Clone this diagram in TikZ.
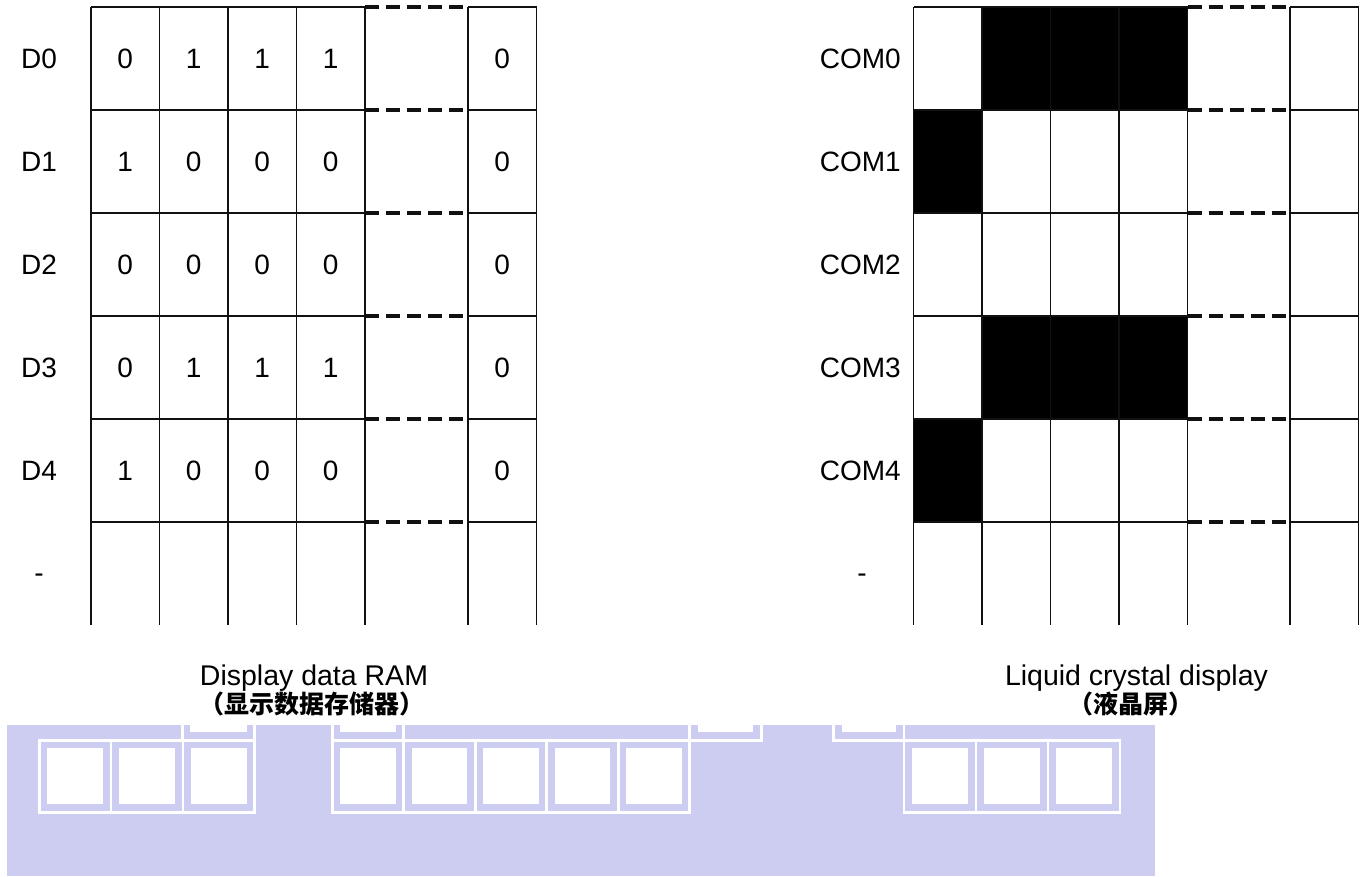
\documentclass[tikz,border=0pt]{standalone}
\usepackage{fontspec}
\setmainfont{Liberation Sans}
\newfontfamily\cjk{Noto Sans CJK SC}
\usetikzlibrary{positioning}
\definecolor{Grid}{HTML}{111111}
\definecolor{Lilac}{RGB}{205,205,241}

\tikzset{
  gridline/.style={Grid,line width=1.5pt},
  gapline/.style={Grid,line width=3.3pt,dash pattern=on 14pt off 7pt},
  celltext/.style={font=\fontsize{28}{30}\selectfont,inner sep=0pt},
  caption/.style={font=\fontsize{28.5}{30}\selectfont,anchor=base,inner sep=0pt},
  captioncn/.style={font=\cjk\bfseries\fontsize{25}{27}\selectfont,anchor=base,inner sep=0pt},
  tofuline/.style={white,line width=2.7pt}
}

% x0, x1, top edge of one empty glyph box
\newcommand{\tofubox}[3]{%
  \draw[tofuline] ({#1},{#3}) rectangle ({#2},{#3+72});
  \fill[white] ({#1+8},{#3+8}) rectangle ({#2-8},{#3+64});
}

\begin{document}
\begin{tikzpicture}[x=1pt,y=-1pt]
  \useasboundingbox (0,0) rectangle (1364,876);

  % display data RAM
  \foreach \x in {91,159.5,228,296.5,365,468,536.5}
    \draw[gridline] (\x,7) -- (\x,625);
  \foreach \y in {7,110,213,316,419,522} {
    \draw[gridline] (91,\y) -- (365,\y);
    \draw[gapline] (365,\y) -- (468,\y);
    \draw[gridline] (468,\y) -- (536.5,\y);
  }
  \foreach \bits [count=\r from 0] in {{0,1,1,1},{1,0,0,0},{0,0,0,0},{0,1,1,1},{1,0,0,0}} {
    \node[celltext] (d\r) at (39,58.5+103*\r) {D\r};
    \foreach \b [count=\c from 0] in \bits
      \node[celltext] (ram-\r-\c) at (125.25+68.5*\c,58.5+103*\r) {\b};
    \node[celltext] (ram-\r-5) at (502.25,58.5+103*\r) {0};
  }
  \node[celltext,anchor=base] (d-more) at (39,582) {-};

  % liquid crystal display
  \fill (982,7) rectangle (1187.5,110);
  \fill (913.5,110) rectangle (982,213);
  \fill (982,316) rectangle (1187.5,419);
  \fill (913.5,419) rectangle (982,522);
  \foreach \x in {913.5,982,1050.5,1119,1187.5,1290,1358.5}
    \draw[gridline] (\x,7) -- (\x,625);
  \foreach \y in {7,110,213,316,419,522} {
    \draw[gridline] (913.5,\y) -- (1187.5,\y);
    \draw[gapline] (1187.5,\y) -- (1290,\y);
    \draw[gridline] (1290,\y) -- (1358.5,\y);
  }
  \foreach \r in {0,...,4}
    \node[celltext,anchor=east] (com\r) at (901,58.5+103*\r) {COM\r};
  \node[celltext,anchor=base] (com-more) at (862,582) {-};

  \node[caption] (ramcap) at (314,685) {Display data RAM};
  \node[captioncn] (ramcn) at (312,713) {（显示数据存储器）};
  \node[caption] (lcdcap) at (1136.5,685) {Liquid crystal display};
  \node[captioncn] (lcdcn) at (1131,713) {（液晶屏）};

  % band of empty glyph boxes
  \fill[Lilac] (7.3,725) rectangle (1155,876);
  \begin{scope}
    \clip (7.3,725) rectangle (1155,876);
    \tofubox{182.3}{254.7}{668.3}
    \tofubox{332.3}{403.8}{668.3}
    \tofubox{689.7}{761.3}{668.3}
    \tofubox{833.7}{904}{668.3}
  \end{scope}
  \foreach \i in {0,1,2} {
    \tofubox{39.35+71.75*\i}{39.35+71.75*(\i+1)}{740.3}
  }
  \foreach \i in {0,...,4} {
    \tofubox{332.3+71.5*\i}{332.3+71.5*(\i+1)}{740.3}
  }
  \foreach \i in {0,1,2} {
    \tofubox{904+72*\i}{904+72*(\i+1)}{740.3}
  }
\end{tikzpicture}
\end{document}
